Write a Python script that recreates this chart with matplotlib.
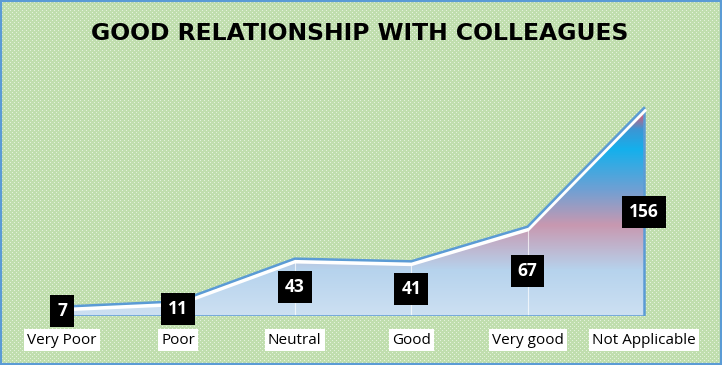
import numpy as np
import matplotlib
matplotlib.use("Agg")
import matplotlib.pyplot as plt
from matplotlib.colors import LinearSegmentedColormap
from matplotlib.patches import Polygon, Rectangle
import matplotlib.transforms as mtransforms

categories = ["Very Poor", "Poor", "Neutral", "Good", "Very good", "Not Applicable"]
values = [7, 11, 43, 41, 67, 156]
title = "GOOD RELATIONSHIP WITH COLLEAGUES"

W, H = 722, 365
fig = plt.figure(figsize=(W / 100, H / 100), dpi=100)

# dotted green background
bg = np.zeros((H, W, 3))
bg[:, :] = np.array([192, 222, 174]) / 255
yy, xx = np.mgrid[0:H, 0:W]
dots = ((yy % 4 == 0) & (xx % 4 == 0)) | ((yy % 4 == 2) & (xx % 4 == 2))
bg[dots] = np.array([228, 242, 220]) / 255
fig.figimage(bg, xo=0, yo=0, origin="upper", zorder=-10)

# axes: x data 0..5 -> px 62..644 ; baseline at px 316 from top
ax = fig.add_axes([3.8 / W, 49 / H, 698.4 / W, 240 / H])
ax.set_zorder(5)
ax.patch.set_alpha(0)
for s in ax.spines.values():
    s.set_visible(False)
ax.set_xticks([])
ax.set_yticks([])

x = np.arange(len(values))
verts = [(x[0], 0)] + list(zip(x, values)) + [(x[-1], 0)]

# gradient fill
stops = [
    (0.0, (205, 224, 242)),
    (34 / 160, (182, 211, 237)),
    (68 / 160, (200, 152, 176)),
    (95 / 160, (110, 160, 212)),
    (125 / 160, (20, 176, 236)),
    (140 / 160, (60, 150, 212)),
    (151 / 160, (212, 92, 122)),
    (1.0, (220, 80, 110)),
]
cmap = LinearSegmentedColormap.from_list("g", [(p, tuple(c / 255 for c in col)) for p, col in stops])
grad = np.linspace(0, 1, 400).reshape(-1, 1)
im = ax.imshow(grad, aspect="auto", cmap=cmap, origin="lower",
               extent=[-0.5, 5.5, 0, 160], zorder=1)
poly = Polygon(verts, closed=True, facecolor="none", edgecolor="none")
ax.add_patch(poly)
im.set_clip_path(poly)
ax.set_xlim(-0.5, 5.5)
ax.set_ylim(0, 180)

# outline of area (baseline + right edge)
ax.plot([x[0], x[-1], x[-1]], [0, 0, values[-1]], color="#5b9bd5", lw=1.8, zorder=3,
        solid_capstyle="butt")

# drop lines
for xi, v in zip(x, values):
    ax.plot([xi, xi], [0, v], color="white", lw=0.8, alpha=0.7, zorder=2)

# white bevel line below the top edge
off = mtransforms.offset_copy(ax.transData, fig=fig, x=0, y=-2.6, units="dots")
ax.plot(x, values, color="white", lw=3.2, transform=off, zorder=3, solid_joinstyle="miter")
ax.plot(x, values, color="#5b9bd5", lw=1.8, zorder=4, solid_joinstyle="miter")

# data labels (centered at half the value)
for xi, v in zip(x, values):
    yl = max(v / 2, 3.5)
    ax.text(xi, yl, str(v), ha="center", va="center", color="white", fontsize=12.5,
            fontweight="bold", family="Open Sans", zorder=6,
            bbox=dict(boxstyle="square,pad=0.4", facecolor="black", edgecolor="none"))

# category labels
for xi, c in zip(x, categories):
    ax.text(xi, 0, c, ha="center", va="center", fontsize=11, family="Open Sans",
            color="black", zorder=6,
            transform=mtransforms.offset_copy(ax.transData, fig=fig, x=0, y=-24, units="dots"),
            bbox=dict(boxstyle="square,pad=0.2", facecolor="white", edgecolor="none"))

fig.text(360 / W, 1 - 33 / H, title, ha="center", va="center", fontsize=16.9,
         fontweight="bold", family="DejaVu Sans", color="black")

# border
fig.add_artist(Rectangle((0, 0), 1, 1, transform=fig.transFigure, fill=False,
                         edgecolor="#5b9bd5", lw=3, zorder=20))

fig.savefig("out.png", dpi=100)
